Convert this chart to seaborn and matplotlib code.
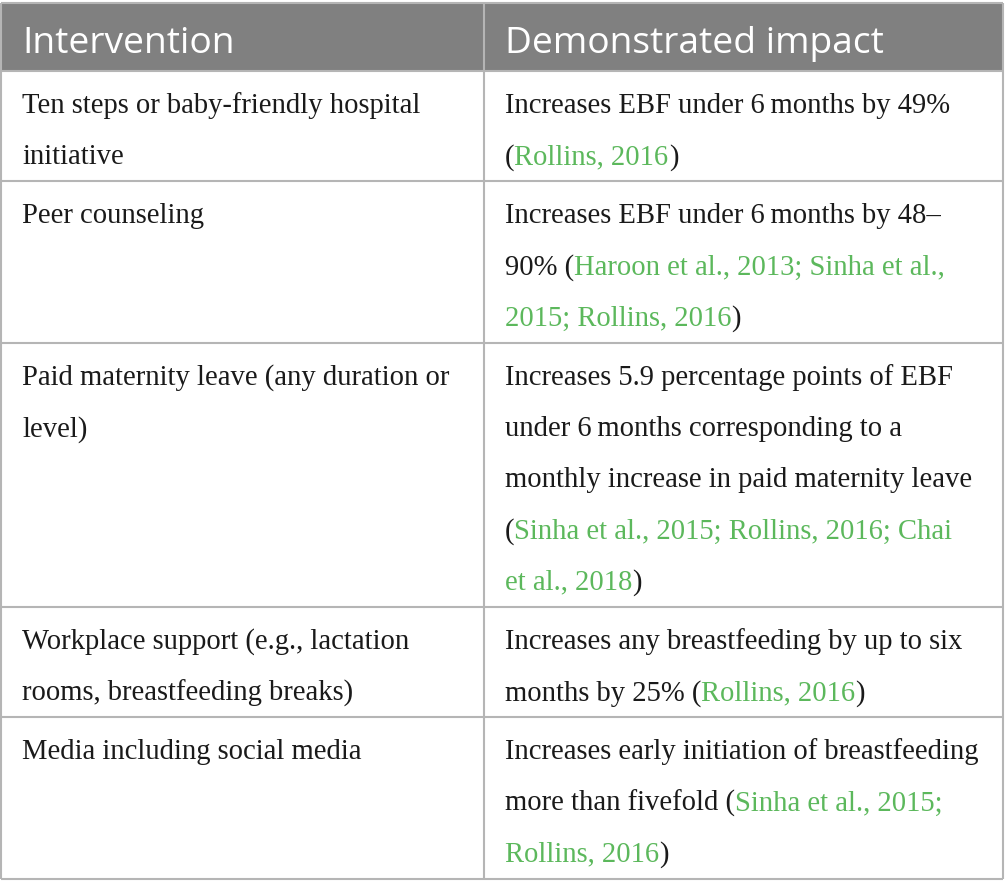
import re
import matplotlib
matplotlib.use("Agg")
import matplotlib.pyplot as plt
import seaborn as sns

# table content; {...} marks a green citation
headers = ["Intervention", "Demonstrated impact"]
interventions = [
    ["Ten steps or baby-friendly hospital", "initiative"],
    ["Peer counseling"],
    ["Paid maternity leave (any duration or", "level)"],
    ["Workplace support (e.g., lactation", "rooms, breastfeeding breaks)"],
    ["Media including social media"],
]
impacts = [
    ["Increases EBF under 6\u2009months by 49%", "({Rollins, 2016})"],
    ["Increases EBF under 6\u2009months by 48\u2013",
     "90% ({Haroon et al., 2013; Sinha et al.,}",
     "{2015; Rollins, 2016})"],
    ["Increases 5.9 percentage points of EBF",
     "under 6\u2009months corresponding to a",
     "monthly increase in paid maternity leave",
     "({Sinha et al., 2015; Rollins, 2016; Chai}",
     "{et al., 2018})"],
    ["Increases any breastfeeding by up to six",
     "months by 25% ({Rollins, 2016})"],
    ["Increases early initiation of breastfeeding",
     "more than fivefold ({Sinha et al., 2015;}",
     "{Rollins, 2016})"],
]

HEAD_BG = "#808080"
GRID = "#b5b5b5"
GREEN = "#5cb85c"
SERIF = ["Liberation Serif", "DejaVu Serif"]
SANS = ["Open Sans", "DejaVu Sans"]

W, H = 1005, 895
X0, X1, XMID = 1, 1003, 484
TOP, HEAD_BOT = 4, 72
LINE_H = 51.2
PAD_L = 21
FS = 20.6

sns.set_style("white")
fig = plt.figure(figsize=(W / 100, H / 100), dpi=100)
ax = fig.add_axes([0, 0, 1, 1])
ax.set_xlim(0, W)
ax.set_ylim(H, 0)
ax.axis("off")
renderer = fig.canvas.get_renderer()

# header
ax.fill_between([X0, X1], TOP, HEAD_BOT, color=HEAD_BG, lw=0)
for x, h in zip([X0 + PAD_L, XMID + PAD_L], headers):
    ax.text(x, 53, h, color="white", fontsize=26.7, family=SANS, va="baseline")


def draw_line(x, y, line):
    parts = re.split(r"(\{[^}]*\})", line)
    for p in parts:
        if not p:
            continue
        green = p.startswith("{")
        s = p.strip("{}")
        t = ax.text(x, y, s, fontsize=FS, family=SERIF, va="baseline",
                    color=GREEN if green else "#1a1a1a")
        x = t.get_window_extent(renderer=renderer).x1


row_tops = [HEAD_BOT]
y = HEAD_BOT
for left, right in zip(interventions, impacts):
    n = max(len(left), len(right))
    for i, line in enumerate(left):
        draw_line(X0 + PAD_L, y + 41 + i * LINE_H, line)
    for i, line in enumerate(right):
        draw_line(XMID + PAD_L, y + 41 + i * LINE_H, line)
    y = y + n * LINE_H + 8
    row_tops.append(y)

# grid
ax.hlines([TOP] + row_tops, X0, X1, color=GRID, lw=1.5)
ax.vlines([X0, XMID, X1], TOP, row_tops[-1], color=GRID, lw=1.5)

fig.savefig("out.png", dpi=100)
